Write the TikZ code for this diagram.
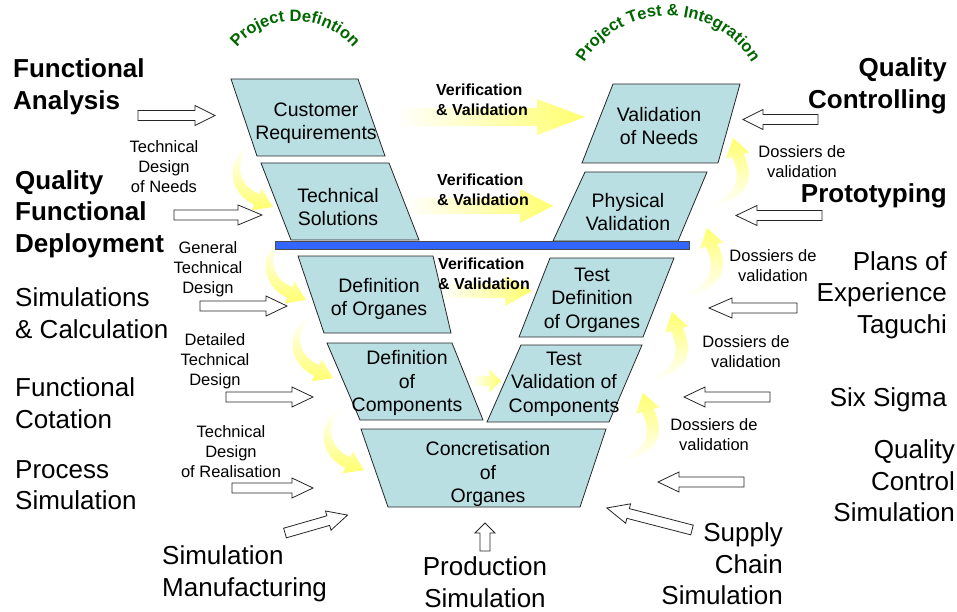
\documentclass[tikz,border=0pt]{standalone}
\usepackage{fontspec}
\setmainfont{Liberation Sans}
\usetikzlibrary{decorations.text}
\definecolor{stagefill}{RGB}{185,223,227}
\definecolor{barblue}{RGB}{51,102,255}
\definecolor{projgreen}{RGB}{0,102,0}
\definecolor{glow}{RGB}{255,255,110}
% white block arrow: tail, angle, length, head length
\newcommand{\hollowarrow}[4]{\draw[arrowbox,shift={(#1)},rotate=#2] (0,-5) -- ({#3-#4},-5) -- ({#3-#4},-10) -- (#3,0) -- ({#3-#4},10) -- ({#3-#4},5) -- (0,5) -- cycle;}
% yellow curls, placed by their tip
\newcommand{\leftcurl}[1]{\shade[top color=white,middle color=glow!70,bottom color=glow,shift={(#1)}] (0,0) -- (-11.2,-18.5) -- (-13.8,-13) .. controls (-36,-22) and (-40,-48) .. (-20,-62) .. controls (-50,-50) and (-45,-14) .. (-18.8,-2.2) -- (-21.4,3.3) -- cycle;}
\newcommand{\rightcurl}[1]{\shade[top color=glow,middle color=glow!70,bottom color=white,shift={(#1)}] (0,0) -- (16.3,14.4) -- (10.5,15.9) .. controls (25,45) and (10,65) .. (-25,68) .. controls (2,58) and (10,42) .. (-1.1,19.1) -- (-6.9,20.6) -- cycle;}
\begin{document}
\begin{tikzpicture}[x=1pt,y=-1pt,
    stage/.style={draw=black!85,line width=.8pt,fill=stagefill},
    stagetext/.style={font=\fontsize{19.5}{23.5}\selectfont,align=center,inner sep=0},
    arrowbox/.style={draw=black!85,line width=.8pt,fill=white},
    bigbold/.style={font=\fontsize{26}{31.5}\selectfont\bfseries,inner sep=0},
    big/.style={font=\fontsize{26}{31.5}\selectfont,inner sep=0},
    small/.style={font=\fontsize{16.5}{20}\selectfont,align=center,inner sep=0},
    vv/.style={font=\fontsize{16}{20}\selectfont\bfseries,align=left,inner sep=0,anchor=west},
    curved/.style={decorate,decoration={text along path,text align=center,text={|\fontsize{16.5}{16.5}\selectfont\bfseries\color{projgreen}|#1}}}]
\useasboundingbox (0,0) rectangle (957,612);

% verification & validation glow
\shade[left color=white,middle color=glow!75,right color=glow] (395,108) -- (537,108) -- (537,99) -- (585,117) -- (537,135) -- (537,126) -- (395,126) -- cycle;
\shade[left color=white,middle color=glow!75,right color=glow] (405,198) -- (520,198) -- (520,189) -- (553,206) -- (520,223) -- (520,214) -- (405,214) -- cycle;
\shade[left color=white,middle color=glow!75,right color=glow] (440,284) -- (505,284) -- (505,276) -- (532,291) -- (505,306) -- (505,298) -- (440,298) -- cycle;
\shade[left color=white,right color=glow] (472,376) -- (489,376) -- (489,369) -- (501,381) -- (489,393) -- (489,386) -- (472,386) -- cycle;

\leftcurl{273,207}
\leftcurl{306,300}
\leftcurl{333,378}
\leftcurl{364,470}
\rightcurl{733,138}
\rightcurl{707,228}
\rightcurl{672,312}
\rightcurl{643,393}

% the V
\draw[stage] (231,79) -- (358,79) -- (385,156) -- (257,156) -- cycle;
\draw[stage] (261,163) -- (389,163) -- (419,240) -- (291,240) -- cycle;
\draw[stage] (298,256) -- (433,256) -- (451,333) -- (324,333) -- cycle;
\draw[stage] (327,343) -- (452,343) -- (483,420) -- (360,420) -- cycle;
\draw[stage] (361,429) -- (606,429) -- (580,507) -- (388,507) -- cycle;
\draw[stage] (521,345) -- (642,345) -- (609,422) -- (487,422) -- cycle;
\draw[stage] (550,258) -- (674,258) -- (643,337) -- (519,337) -- cycle;
\draw[stage] (585,172) -- (707,172) -- (678,241) -- (553,241) -- cycle;
\draw[stage] (613,84) -- (740,84) -- (718,163) -- (582,163) -- cycle;
\draw[draw=black!70,line width=.8pt,fill=barblue] (275,241) rectangle (689,249);

\node[stagetext] (custreq) at (316,123) {Customer\\Requirements};
\node[stagetext] (techsol) at (338,207) {Technical\\Solutions};
\node[stagetext] (deforg) at (379,299) {Definition\\of Organes};
\node[stagetext] (defcomp) at (407,383) {Definition\\of\\Components};
\node[stagetext] (concret) at (488,474) {Concretisation\\of\\Organes};
\node[stagetext] (testcomp) at (564,384) {Test\\Validation of\\Components};
\node[stagetext] (testorg) at (592,300) {Test\\Definition\\of Organes};
\node[stagetext] (physval) at (628,212) {Physical\\Validation};
\node[stagetext] (valneeds) at (659,126) {Validation\\of Needs};

% phase titles
\path[curved=Project Defintion] (228.9,59.2) .. controls (258.3,8.4) and (331.8,8.4) .. (361.1,59.2);
\path[curved=Project Test {\&} Integration] (575.7,80.6) .. controls (607.1,-5.6) and (728.9,-5.6) .. (760.3,80.6);

\node[vv] (vv1) at (436,100) {Verification\\\& Validation};
\node[vv] (vv2) at (437,190) {Verification\\\& Validation};
\node[vv] (vv3) at (438,274) {Verification\\\& Validation};

\node[small] (tdneeds) at (164,167) {Technical\\Design\\of Needs};
\node[small] (gentd) at (208,269) {General\\Technical\\Design};
\node[small] (dettd) at (215,361) {Detailed\\Technical\\Design};
\node[small] (tdreal) at (231,452) {Technical\\Design\\of Realisation};
\node[small] (dos1) at (802,162) {Dossiers de\\validation};
\node[small] (dos2) at (773,266) {Dossiers de\\validation};
\node[small] (dos3) at (746,352) {Dossiers de\\validation};
\node[small] (dos4) at (714,435) {Dossiers de\\validation};

\node[bigbold,anchor=west,align=left] (funcana) at (13,87) {Functional\\Analysis};
\node[bigbold,anchor=west,align=left] (qfd) at (15,214) {Quality\\Functional\\Deployment};
\node[big,anchor=west,align=left] (simcalc) at (15,313) {Simulations\\\& Calculation};
\node[big,anchor=west,align=left] (funccot) at (15,403) {Functional\\Cotation};
\node[big,anchor=west,align=left] (procsim) at (15,485) {Process\\Simulation};
\node[big,anchor=west,align=left] (simmanuf) at (162,574) {Simulation\\Manufacturing};
\node[big,align=center] (prodsim) at (485,582) {Production\\Simulation};
\node[big,anchor=east,align=right] (supply) at (783,564) {Supply\\Chain\\Simulation};
\node[big,anchor=east,align=right] (qcsim) at (955,481) {Quality\\Control\\Simulation};
\node[big,anchor=east] (sixsigma) at (947,400) {Six Sigma};
\node[big,anchor=east,align=right] (plans) at (947,295) {Plans of\\Experience\\Taguchi};
\node[bigbold,anchor=east] (proto) at (947,196) {Prototyping};
\node[bigbold,anchor=east,align=right] (qualctrl) at (947,86) {Quality\\Controlling};

% inputs
\hollowarrow{138,115.5}{0}{77}{20}
\hollowarrow{174,215}{0}{88}{24}
\hollowarrow{200,306}{0}{87}{21}
\hollowarrow{226,397}{0}{87}{21}
\hollowarrow{232,488}{0}{81}{21}
\hollowarrow{285,533}{16}{65}{20}
\hollowarrow{485,551}{90}{28}{10}
\hollowarrow{818,119.5}{180}{75}{20}
\hollowarrow{822,215.5}{180}{86}{21}
\hollowarrow{797,308}{180}{88}{23}
\hollowarrow{770,397}{180}{86}{21}
\hollowarrow{744,482}{180}{86}{21}
\hollowarrow{692,530}{165.5}{88}{22}
\end{tikzpicture}
\end{document}
